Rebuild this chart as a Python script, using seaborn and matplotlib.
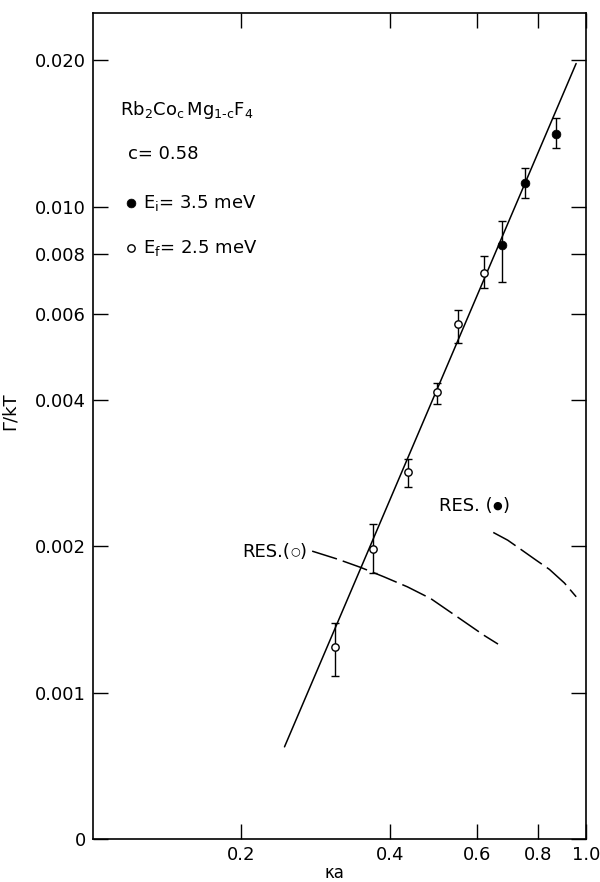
import numpy as np
import pandas as pd
import matplotlib
matplotlib.use("Agg")
import matplotlib.pyplot as plt
from matplotlib.ticker import FixedLocator, NullLocator, FixedFormatter
import seaborn as sns

# datos (escala log-log)
open_x = [0.309, 0.369, 0.435, 0.498, 0.550, 0.621]
open_y = [0.00124, 0.00197, 0.00284, 0.00415, 0.00572, 0.00729]
open_lo = [0.00108, 0.00176, 0.00265, 0.00392, 0.00523, 0.00679]
open_hi = [0.00139, 0.00222, 0.00303, 0.00433, 0.00614, 0.00793]

filled_x = [0.675, 0.752, 0.869]
filled_y = [0.00832, 0.0112, 0.0141]
filled_lo = [0.00698, 0.0104, 0.0132]
filled_hi = [0.00936, 0.0120, 0.0152]

fit_x = [0.2445, 0.954]
fit_y = [0.000773, 0.0197]

res_open_x = [0.2782, 0.3129, 0.3489, 0.389, 0.434, 0.4842, 0.5484, 0.6214, 0.6625]
res_open_y = [0.001954, 0.001882, 0.001809, 0.00173, 0.00165, 0.00156, 0.00143, 0.00131, 0.001258]

res_filled_x = [0.648, 0.6933, 0.7372, 0.791, 0.8423, 0.9034, 0.9544]
res_filled_y = [0.002135, 0.002058, 0.00197, 0.001873, 0.001792, 0.00168, 0.001574]

x_ticks = [0.2, 0.4, 0.6, 0.8, 1.0]
x_labels = ["0.2", "0.4", "0.6", "0.8", "1.0"]
y_ticks = [0.0005, 0.001, 0.002, 0.004, 0.006, 0.008, 0.010, 0.020]
y_labels = ["0", "0.001", "0.002", "0.004", "0.006", "0.008", "0.010", "0.020"]

sns.set_theme(style="ticks")
plt.rcParams['font.family'] = ['DejaVu Sans']
plt.rcParams['mathtext.default'] = 'regular'
for k in ['text.color', 'axes.labelcolor', 'xtick.color', 'ytick.color']:
    plt.rcParams[k] = 'black'

fig, ax = plt.subplots(figsize=(6, 8.82), dpi=100)
fig.subplots_adjust(left=0.155, right=0.977, bottom=0.049, top=0.985)

ax.set_xscale('log')
ax.set_yscale('log')

# recta de ajuste y curvas de resolución
sns.lineplot(x=fit_x, y=fit_y, ax=ax, color='black', linewidth=1.1, sort=False)
sns.lineplot(x=res_open_x, y=res_open_y, ax=ax, color='black', linewidth=1.1,
             sort=False, linestyle=(0, (17, 4)))
sns.lineplot(x=res_filled_x, y=res_filled_y, ax=ax, color='black', linewidth=1.1,
             sort=False, linestyle=(0, (17, 4)))

# barras de error
ax.errorbar(open_x, open_y,
            yerr=[np.array(open_y) - np.array(open_lo), np.array(open_hi) - np.array(open_y)],
            fmt='none', ecolor='black', elinewidth=1, capsize=3, capthick=1)
ax.errorbar(filled_x, filled_y,
            yerr=[np.array(filled_y) - np.array(filled_lo), np.array(filled_hi) - np.array(filled_y)],
            fmt='none', ecolor='black', elinewidth=1, capsize=3, capthick=1)

# puntos
sns.scatterplot(x=filled_x, y=filled_y, ax=ax, color='black', edgecolor='black',
                s=40, marker='o', zorder=5, label='$E_i$= 3.5 meV')
sns.scatterplot(x=open_x, y=open_y, ax=ax, color='white', edgecolor='black',
                linewidth=1, s=28, marker='o', zorder=5, label='$E_f$= 2.5 meV')

ax.set_xlim(0.1, 1.0)
ax.set_ylim(0.0005, 0.025)

ax.xaxis.set_major_locator(FixedLocator(x_ticks))
ax.xaxis.set_major_formatter(FixedFormatter(x_labels))
ax.yaxis.set_major_locator(FixedLocator(y_ticks))
ax.yaxis.set_major_formatter(FixedFormatter(y_labels))
ax.xaxis.set_minor_locator(NullLocator())
ax.yaxis.set_minor_locator(NullLocator())

ax.tick_params(which='major', direction='in', top=True, right=True,
               length=11, width=1, labelsize=13, pad=5, color='black')
for sp in ax.spines.values():
    sp.set_linewidth(1.2)
    sp.set_color('black')

ax.set_xlabel('κa', fontsize=12)
ax.set_ylabel('Γ/kT', fontsize=13)
ax.xaxis.set_label_coords(0.489, -0.030)
ax.yaxis.set_label_coords(-0.15, 0.518)

# textos
ax.text(0.055, 0.883, r'$Rb_2Co_c\,Mg_{1\text{-}c}F_4$', transform=ax.transAxes,
        fontsize=13, va='center', ha='left')
ax.text(0.071, 0.830, 'c= 0.58', transform=ax.transAxes,
        fontsize=13, va='center', ha='left')

# etiquetas RES con el símbolo pequeño entre paréntesis
for x0, y0, head, sym in [(0.2009, 0.00195, 'RES.(', '○'), (0.5026, 0.00242, 'RES. (', '●')]:
    t1 = ax.text(x0, y0, head, fontsize=13, ha='left', va='center')
    t2 = ax.annotate(sym, xy=(1, 0.5), xycoords=t1, fontsize=8, ha='left', va='center')
    ax.annotate(')', xy=(1, 0.5), xycoords=t2, fontsize=13, ha='left', va='center')

ax.legend(loc='upper left', bbox_to_anchor=(0.04, 0.798), frameon=False,
          fontsize=13, handlelength=0.6, handletextpad=0.4, labelspacing=1.4,
          borderpad=0.2)

plt.savefig('out.png', dpi=100)
